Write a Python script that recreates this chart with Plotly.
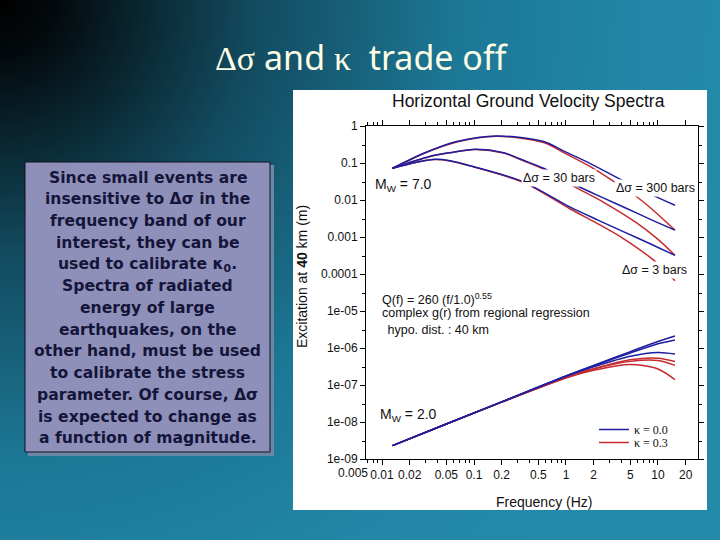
import base64
import plotly.graph_objects as go

# ---------------- data ----------------
# Mw = 7.0, kappa = 0.0 (blue) / 0.3 (red), three stress drops
f_m7_b300 = [0.013, 0.028, 0.065, 0.177, 0.57, 1.0, 1.82, 4.38, 8.5, 15.3]
v_m7_b300 = [0.072, 0.18, 0.38, 0.54, 0.38, 0.197, 0.098, 0.031, 0.014, 0.0072]
f_m7_r300 = [0.013, 0.028, 0.065, 0.177, 0.57, 1.0, 1.82, 3.27, 5.4, 8.5, 15.3]
v_m7_r300 = [0.071, 0.178, 0.37, 0.53, 0.357, 0.177, 0.081, 0.0324, 0.0143, 0.0058, 0.00153]

f_m7_b30 = [0.013, 0.033, 0.055, 0.103, 0.21, 0.34, 0.57, 1.2, 2.54, 4.57, 8.5, 15.3]
v_m7_b30 = [0.072, 0.15, 0.19, 0.235, 0.19, 0.12, 0.072, 0.027, 0.0114, 0.0059, 0.0029, 0.00153]
f_m7_r30 = [0.013, 0.033, 0.055, 0.103, 0.21, 0.34, 0.57, 1.2, 2.54, 5.87, 10.0, 15.3]
v_m7_r30 = [0.072, 0.15, 0.19, 0.233, 0.186, 0.116, 0.068, 0.0238, 0.0088, 0.0024, 0.00086, 0.00032]

f_m7_b3 = [0.013, 0.0238, 0.036, 0.055, 0.098, 0.344, 1.1, 2.2, 4.2, 8.9, 15.3]
v_m7_b3 = [0.072, 0.105, 0.125, 0.115, 0.08, 0.031, 0.0065, 0.0029, 0.0014, 0.0006, 0.00032]
f_m7_r3 = [0.013, 0.0238, 0.036, 0.055, 0.098, 0.344, 1.1, 2.2, 4.2, 8.9, 15.3]
v_m7_r3 = [0.072, 0.105, 0.124, 0.114, 0.079, 0.030, 0.0058, 0.0023, 0.00091, 0.00024, 0.000066]

# Mw = 2.0
f_m2 = [0.013, 0.05, 0.2, 1.0, 2.0, 5.0, 10.0, 15.3]
v_m2_b300 = [2.3e-9, 8.8e-9, 3.5e-8, 1.75e-7, 3.4e-7, 8.0e-7, 1.5e-6, 2.1e-6]
v_m2_b30 = [2.3e-9, 8.8e-9, 3.5e-8, 1.75e-7, 3.3e-7, 7.3e-7, 1.3e-6, 1.65e-6]
v_m2_b3 = [2.3e-9, 8.8e-9, 3.5e-8, 1.72e-7, 3.1e-7, 6.0e-7, 7.6e-7, 6.9e-7]
v_m2_r300 = [2.3e-9, 8.8e-9, 3.45e-8, 1.58e-7, 2.75e-7, 4.8e-7, 5.3e-7, 4.3e-7]
v_m2_r30 = [2.3e-9, 8.8e-9, 3.45e-8, 1.58e-7, 2.7e-7, 4.35e-7, 4.6e-7, 3.4e-7]
v_m2_r3 = [2.3e-9, 8.8e-9, 3.45e-8, 1.55e-7, 2.5e-7, 3.6e-7, 2.7e-7, 1.4e-7]

x_tick_vals = [0.01, 0.02, 0.05, 0.1, 0.2, 0.5, 1, 2, 5, 10, 20]
x_tick_text = ["0.01", "0.02", "0.05", "0.1", "0.2", "0.5", "1", "2", "5", "10", "20"]
y_tick_vals = [1, 0.1, 0.01, 0.001, 0.0001, 1e-5, 1e-6, 1e-7, 1e-8, 1e-9]
y_tick_text = ["1", "0.1", "0.01", "0.001", "0.0001", "1e-05", "1e-06", "1e-07", "1e-08", "1e-09"]

box_lines = [
    "Since small events are",
    "insensitive to \u0394\u03c3 in the",
    "frequency band of our",
    "interest, they can be",
    "used to calibrate \u03ba<sub>0</sub>.",
    "Spectra of radiated",
    "energy of large",
    "earthquakes, on the",
    "other hand, must be used",
    "to calibrate the stress",
    "parameter. Of course, \u0394\u03c3",
    "is expected to change as",
    "a function of magnitude.",
]

# ---------------- figure ----------------
BLUE = "#1e1ea0"
RED = "#c42a2e"
L, R, T, B = 366, 22, 126, 81
W, H = 720, 540
PW, PH = W - L - R, H - T - B


def P(px, py):
    return (px - L) / PW, (H - B - py) / PH


fig = go.Figure()


def add(f, v, color, name=None, show=False, legend="legend"):
    fig.add_trace(go.Scatter(
        x=f, y=v, mode="lines", name=name, showlegend=show, legend=legend,
        line=dict(color=color, width=1.5, shape="spline", smoothing=0.8),
        hoverinfo="skip"))


for f, v in [(f_m7_r300, v_m7_r300), (f_m7_r30, v_m7_r30), (f_m7_r3, v_m7_r3)]:
    add(f, v, RED)
add(f_m2, v_m2_r300, RED, "\u03ba = 0.3", True, "legend2")
add(f_m2, v_m2_r30, RED)
add(f_m2, v_m2_r3, RED)
for f, v in [(f_m7_b300, v_m7_b300), (f_m7_b30, v_m7_b30), (f_m7_b3, v_m7_b3)]:
    add(f, v, BLUE)
add(f_m2, v_m2_b300, BLUE, "\u03ba = 0.0", True, "legend")
add(f_m2, v_m2_b30, BLUE)
add(f_m2, v_m2_b3, BLUE)

# background gradient
svg = ("<svg xmlns='http://www.w3.org/2000/svg' width='720' height='540'>"
       "<defs><radialGradient id='g' cx='0' cy='0' r='760' gradientUnits='userSpaceOnUse'>"
       "<stop offset='0' stop-color='#000000'/>"
       "<stop offset='0.07' stop-color='#03090c'/>"
       "<stop offset='0.33' stop-color='#124a5e'/>"
       "<stop offset='0.6' stop-color='#1c7795'/>"
       "<stop offset='0.85' stop-color='#2287a7'/>"
       "<stop offset='1' stop-color='#248aaa'/>"
       "</radialGradient></defs>"
       "<rect width='720' height='540' fill='url(#g)'/></svg>")
src = "data:image/svg+xml;base64," + base64.b64encode(svg.encode()).decode()
x0p, y0p = P(0, 0)
fig.add_layout_image(dict(source=src, xref="paper", yref="paper", x=x0p, y=y0p,
                          sizex=W / PW, sizey=H / PH, xanchor="left", yanchor="top",
                          sizing="stretch", layer="below"))

shapes = []


def rect(x0, y0, x1, y1, fill, line=None, lw=0):
    a, b = P(x0, y1)
    c, d = P(x1, y0)
    shapes.append(dict(type="rect", xref="paper", yref="paper", x0=a, y0=b, x1=c, y1=d,
                       fillcolor=fill, line=dict(color=line or fill, width=lw), layer="below"))


rect(293, 90, 707, 510, "white")
rect(28, 165, 274, 456, "#6a88a4")
rect(25, 162, 270, 452, "#8f90b9", "#101020", 1)

ann = []


def text(px, py, s, size=12, xa="center", color="#111111", family="Liberation Sans",
         bg=None, angle=0, ya="middle"):
    x, y = P(px, py)
    d = dict(xref="paper", yref="paper", x=x, y=y, text=s, showarrow=False,
             xanchor=xa, yanchor=ya, textangle=angle,
             font=dict(size=size, color=color, family=family))
    if bg:
        d.update(bgcolor=bg, borderpad=1)
    ann.append(d)


serif = "font-family:'Liberation Serif'"
text(361, 57, f"<span style=\"{serif}\">\u0394\u03c3</span> and "
     f"<span style=\"{serif}\">\u03ba</span>\u00a0 trade off",
     size=34, color="#fdfde6", family="Noto Sans")
text(528, 101, "Horizontal Ground Velocity Spectra", size=17.5)
text(302, 277, "Excitation at <b>40</b> km (m)", size=14, angle=-90)
text(544, 502, "Frequency (Hz)", size=14)
text(353, 473, "0.005", size=12)
text(373, 184.7, "M<sub>W</sub> = 7.0", size=14, xa="left")
text(559, 178, "\u0394\u03c3 = 30 bars", size=12.5, bg="white")
text(655, 187.5, "\u0394\u03c3 = 300 bars", size=12.5, bg="white")
text(654.5, 269.5, "\u0394\u03c3 = 3 bars", size=12.5, bg="white")
text(380, 299, "Q(f) = 260 (f/1.0)<sup>0.55</sup>", size=12.5, xa="left")
text(380, 313, "complex g(r) from regional regression", size=12.5, xa="left")
text(382, 330, " hypo. dist. : 40 km", size=12.5, xa="left")
text(378, 415, "M<sub>W</sub> = 2.0", size=14, xa="left")

for i, s in enumerate(box_lines):
    text(147.5, 177.7 + i * 21.72, "<b>" + s + "</b>", size=15.6, color="#15153a",
         family="DejaVu Sans", xa="center")

minor_x = [m * 10 ** k for k in range(-3, 2) for m in (2, 3, 4, 5, 6, 7, 8, 9)]
minor_x = [v for v in minor_x if 0.0067 < v < 27 and v not in x_tick_vals]
minor_y = [3 * 10 ** k for k in range(-9, 0)]

axis_common = dict(type="log", showgrid=False, zeroline=False, showline=True,
                   linecolor="black", linewidth=1, mirror="allticks",
                   ticks="outside", ticklen=5, tickcolor="black",
                   tickfont=dict(size=12, family="Liberation Sans", color="#111111"))

leg_common = dict(xanchor="left", yanchor="top", bgcolor="rgba(0,0,0,0)",
                  font=dict(size=12, family="Liberation Serif", color="#111"),
                  itemwidth=30, borderwidth=0)

fig.update_layout(
    width=W, height=H,
    margin=dict(l=L, r=R, t=T, b=B),
    paper_bgcolor="#1d7b98", plot_bgcolor="white",
    xaxis=dict(range=[-2.174, 1.435], tickvals=x_tick_vals, ticktext=x_tick_text,
               minor=dict(tickvals=minor_x, ticks="outside", ticklen=3, tickcolor="black"),
               **axis_common),
    yaxis=dict(range=[-9, 0], tickvals=y_tick_vals, ticktext=y_tick_text,
               minor=dict(tickvals=minor_y, ticks="outside", ticklen=3, tickcolor="black"),
               **axis_common),
    legend=dict(x=P(594, 0)[0], y=P(0, 415)[1], **leg_common),
    legend2=dict(x=P(594, 0)[0], y=P(0, 428)[1], **leg_common),
    shapes=shapes,
    annotations=ann,
)

fig.write_html("out.html",
               config={"displayModeBar": False},
               post_script="document.body.style.margin='0';"
                           "document.body.style.overflow='hidden';")
